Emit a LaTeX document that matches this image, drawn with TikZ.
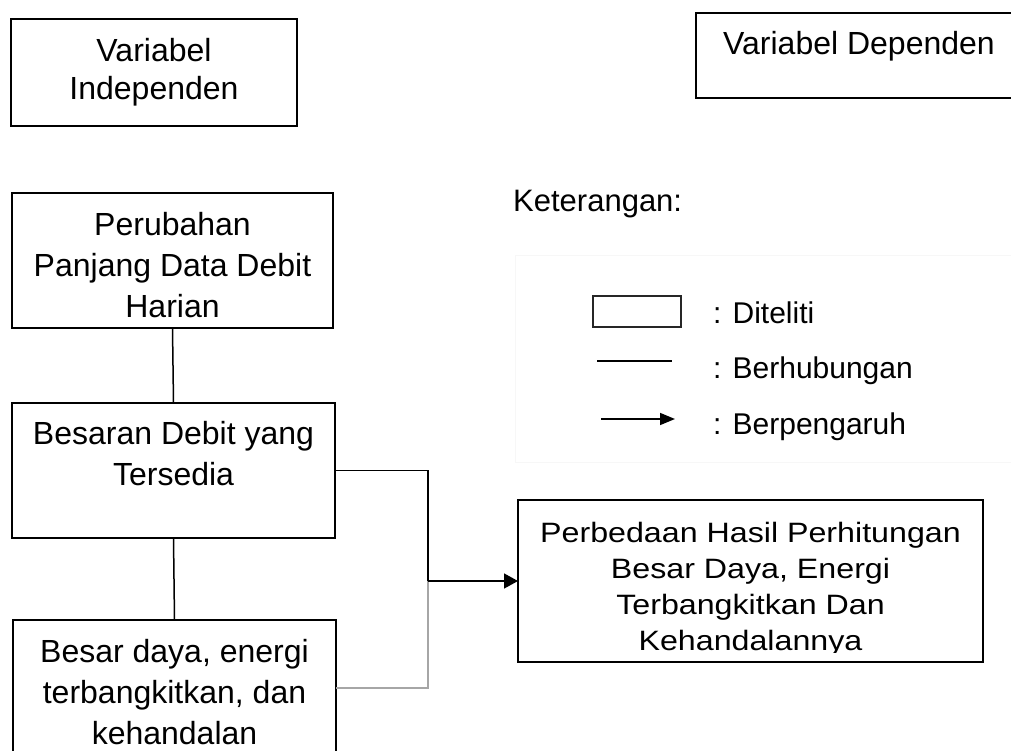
\documentclass[tikz,border=0pt]{standalone}
\usepackage{fontspec}
\setmainfont{Liberation Sans}
\newfontfamily\widefont{Liberation Sans}[FakeStretch=1.15]
\usetikzlibrary{arrows.meta}

\begin{document}
\begin{tikzpicture}[x=1pt, y=-1pt,
  box/.style={draw, line width=1.5pt, align=center, inner sep=0pt, outer sep=0pt, font=\fontsize{32}{41}\selectfont},
  link/.style={line width=1.5pt},
  keylabel/.style={anchor=base west, inner sep=0pt, font=\fontsize{30}{36}\selectfont}]

\useasboundingbox (0,0) rectangle (1011,751);
\clip (0,0) rectangle (1011,751);

% Headings
\node[box, minimum width=286pt, minimum height=107pt, text height=61pt, text depth=6pt, font=\fontsize{32}{38}\selectfont] (indep) at (154,72.5) {Variabel\\Independen};
\node[box, minimum width=326pt, minimum height=85pt, text height=23pt, text depth=24pt] (dep) at (859,55.5) {Variabel Dependen};

% Independent variables
\node[box, minimum width=321pt, minimum height=135pt, text height=120pt, text depth=7pt] (length) at (172.5,260.5) {Perubahan\\Panjang Data Debit\\Harian};
\node[box, minimum width=323pt, minimum height=135pt, text height=64pt, text depth=35pt] (flow) at (173.5,470.5) {Besaran Debit yang\\Tersedia};
\node[box, minimum width=323pt, minimum height=136pt, text height=120pt, text depth=8pt] (power) at (174.5,688) {Besar daya, energi\\terbangkitkan, dan\\kehandalan};

% Dependent variable (last line cut by the frame)
\node[box, minimum width=465pt, minimum height=162pt, text height=148pt, text depth=10pt, font=\widefont\fontsize{28}{36}\selectfont] (result) at (750.5,581) {Perbedaan Hasil Perhitungan\\Besar Daya, Energi\\Terbangkitkan Dan\\Kehandalannya};
\fill[white] ([yshift=9pt]result.south west) rectangle (result.south east);
\draw[link] (result.south west) rectangle (result.north east);

% Connections
\coordinate (join) at (428,581);
\draw[link] (length.south) -- (flow.north);
\draw[link] (flow.south) -- (power.north);
\draw[link] (flow.east) -| (join);
\draw[line width=1.2pt, black!35] (power.east) -| (join);
\draw[link, -{Triangle[length=14pt, width=15pt]}] (join) -- (result.west);

% Legend
\draw[black!3] (515,255) rectangle (1030,462);
\node[anchor=base west, inner sep=0pt, font=\fontsize{31}{37}\selectfont] (legend) at (513,212) {Keterangan:};
\node[draw, line width=1.5pt, draw=black!85, minimum width=88pt, minimum height=31pt, inner sep=0pt] (keybox) at (637,311.5) {};
\node[keylabel] (keyboxtext) at (713,323) {: Diteliti};
\coordinate (keyline1) at (597,361);
\coordinate (keyline2) at (672,361);
\draw[link] (keyline1) -- (keyline2);
\node[keylabel] (keylinetext) at (713,378) {: Berhubungan};
\coordinate (keyarrow1) at (601,419);
\coordinate (keyarrow2) at (675,419);
\draw[link, -{Triangle[length=15pt, width=12pt]}] (keyarrow1) -- (keyarrow2);
\node[keylabel] (keyarrowtext) at (713,434) {: Berpengaruh};

\end{tikzpicture}
\end{document}
